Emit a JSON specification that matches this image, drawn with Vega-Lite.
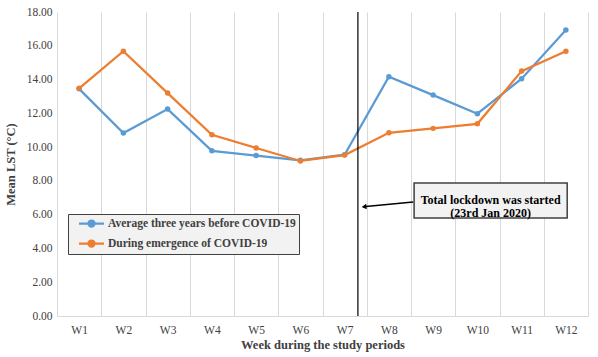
{
  "$schema": "https://vega.github.io/schema/vega-lite/v6.json",
  "width": 531,
  "height": 304,
  "autosize": {"type": "none"},
  "padding": {"left": 57, "top": 12, "right": 10, "bottom": 41},
  "background": "white",
  "config": {
    "view": {"stroke": null},
    "font": "Liberation Serif",
    "axis": {"labelFont": "Liberation Serif", "titleFont": "Liberation Serif"}
  },
  "datasets": {
    "series": [
      {"week": "W1", "series": "Average three years before COVID-19", "value": 13.45},
      {"week": "W2", "series": "Average three years before COVID-19", "value": 10.83},
      {"week": "W3", "series": "Average three years before COVID-19", "value": 12.25},
      {"week": "W4", "series": "Average three years before COVID-19", "value": 9.78},
      {"week": "W5", "series": "Average three years before COVID-19", "value": 9.5},
      {"week": "W6", "series": "Average three years before COVID-19", "value": 9.22},
      {"week": "W7", "series": "Average three years before COVID-19", "value": 9.55},
      {"week": "W8", "series": "Average three years before COVID-19", "value": 14.17},
      {"week": "W9", "series": "Average three years before COVID-19", "value": 13.08},
      {"week": "W10", "series": "Average three years before COVID-19", "value": 11.98},
      {"week": "W11", "series": "Average three years before COVID-19", "value": 14.05},
      {"week": "W12", "series": "Average three years before COVID-19", "value": 16.93},
      {"week": "W1", "series": "During emergence of COVID-19", "value": 13.48},
      {"week": "W2", "series": "During emergence of COVID-19", "value": 15.68},
      {"week": "W3", "series": "During emergence of COVID-19", "value": 13.2},
      {"week": "W4", "series": "During emergence of COVID-19", "value": 10.73},
      {"week": "W5", "series": "During emergence of COVID-19", "value": 9.95},
      {"week": "W6", "series": "During emergence of COVID-19", "value": 9.18},
      {"week": "W7", "series": "During emergence of COVID-19", "value": 9.53},
      {"week": "W8", "series": "During emergence of COVID-19", "value": 10.85},
      {"week": "W9", "series": "During emergence of COVID-19", "value": 11.11},
      {"week": "W10", "series": "During emergence of COVID-19", "value": 11.38},
      {"week": "W11", "series": "During emergence of COVID-19", "value": 14.5},
      {"week": "W12", "series": "During emergence of COVID-19", "value": 15.68}
    ],
    "lockdown": [{"x": 7.3}],
    "box": [{"x": 8.57, "x2": 12.03, "value": 7.87, "value2": 5.8, "xc": 10.3, "yc": 6.84, "label": ["Total lockdown was started", "(23rd Jan 2020)"]}],
    "arrow": [{"x": 8.55, "value": 6.75, "o": 1}, {"x": 7.42, "value": 6.47, "o": 2}],
    "head": [{"x": 7.44, "value": 6.47}]
  },
  "layer": [
    {
      "data": {"name": "series"},
      "encoding": {
        "x": {
          "field": "week", "type": "ordinal", "sort": null,
          "scale": {"type": "band", "paddingInner": 0, "paddingOuter": 0},
          "axis": {
            "title": "Week during the study periods",
            "titleFontSize": 12.5, "titleFontWeight": "bold", "titleColor": "#404040", "titlePadding": 3,
            "labelAngle": 0, "labelFontSize": 11.5, "labelColor": "#404040", "labelPadding": 8,
            "ticks": false, "tickBand": "extent",
            "grid": true, "gridColor": "#d9d9d9", "gridWidth": 1,
            "domainColor": "#d9d9d9", "domainWidth": 1
          }
        },
        "y": {
          "field": "value", "type": "quantitative",
          "scale": {"domain": [0, 18], "nice": false},
          "axis": {
            "title": "Mean LST (°C)", "titleFontSize": 12.5, "titleFontWeight": "bold", "titleColor": "#404040", "titlePadding": 9,
            "values": [0, 2, 4, 6, 8, 10, 12, 14, 16, 18], "format": ".2f", "labelOverlap": false,
            "labelFontSize": 11.5, "labelColor": "#404040", "labelPadding": 5,
            "ticks": false, "domain": false, "grid": false
          }
        },
        "color": {
          "field": "series", "type": "nominal",
          "scale": {"domain": ["Average three years before COVID-19", "During emergence of COVID-19"], "range": ["#5b9bd5", "#ed7d31"]},
          "legend": {
            "title": null, "orient": "none", "legendX": 11, "legendY": 202, "direction": "vertical",
            "fillColor": "#f2f2f2", "strokeColor": "#404040", "padding": 3,
            "labelFont": "Liberation Serif", "labelFontSize": 11.5, "labelFontWeight": "bold", "labelColor": "#404040", "labelLimit": 400,
            "symbolType": "M-2.5,0L2.5,0M0.6,0A0.6,0.6,0,1,1,-0.6,0A0.6,0.6,0,1,1,0.6,0",
            "symbolSize": 100, "symbolStrokeWidth": 2.25, "rowPadding": 5, "labelOffset": 10, "symbolOffset": 14,
            "encode": {"symbols": {"update": {"fill": {"scale": "color", "field": "value"}, "stroke": {"scale": "color", "field": "value"}}}}
          }
        }
      },
      "layer": [
        {"mark": {"type": "line", "strokeWidth": 2.25}},
        {"mark": {"type": "point", "filled": true, "size": 30, "opacity": 1, "shape": "circle"}}
      ]
    },
    {
      "encoding": {
        "y": {
          "field": "value", "type": "quantitative",
          "scale": {"domain": [0, 18], "nice": false},
          "axis": {
            "title": "Mean LST (°C)", "titleFontSize": 12.5, "titleFontWeight": "bold", "titleColor": "#404040", "titlePadding": 9,
            "values": [0, 2, 4, 6, 8, 10, 12, 14, 16, 18], "format": ".2f", "labelOverlap": false,
            "labelFontSize": 11.5, "labelColor": "#404040", "labelPadding": 5,
            "ticks": false, "domain": false, "grid": false
          }
        }
      },
      "layer": [
        {
          "data": {"name": "lockdown"},
          "mark": {"type": "rule", "color": "#000000", "strokeWidth": 1.2},
          "encoding": {
            "x": {"field": "x", "type": "quantitative", "scale": {"domain": [0.5, 12.5], "nice": false, "zero": false}, "axis": null},
            "y": null
          }
        },
        {
          "data": {"name": "box"},
          "mark": {"type": "rect", "fill": "#f2f2f2", "stroke": "#404040", "strokeWidth": 1.5},
          "encoding": {
            "x": {"field": "x", "type": "quantitative", "scale": {"domain": [0.5, 12.5], "nice": false, "zero": false}, "axis": null},
            "x2": {"field": "x2"},
            "y2": {"field": "value2"}
          }
        },
        {
          "data": {"name": "box"},
          "mark": {"type": "text", "font": "Liberation Serif", "fontSize": 12, "fontWeight": "bold", "color": "#000000", "align": "center", "baseline": "middle", "lineHeight": 13},
          "encoding": {
            "x": {"field": "xc", "type": "quantitative", "scale": {"domain": [0.5, 12.5], "nice": false, "zero": false}, "axis": null},
            "y": {"field": "yc", "type": "quantitative", "scale": {"domain": [0, 18], "nice": false}, "axis": {
            "title": "Mean LST (°C)", "titleFontSize": 12.5, "titleFontWeight": "bold", "titleColor": "#404040", "titlePadding": 9,
            "values": [0, 2, 4, 6, 8, 10, 12, 14, 16, 18], "format": ".2f", "labelOverlap": false,
            "labelFontSize": 11.5, "labelColor": "#404040", "labelPadding": 5,
            "ticks": false, "domain": false, "grid": false
          }},
            "text": {"field": "label"}
          }
        },
        {
          "data": {"name": "arrow"},
          "mark": {"type": "line", "color": "#000000", "strokeWidth": 1.5},
          "encoding": {
            "x": {"field": "x", "type": "quantitative", "scale": {"domain": [0.5, 12.5], "nice": false, "zero": false}, "axis": null},
            "order": {"field": "o"}
          }
        },
        {
          "data": {"name": "head"},
          "mark": {"type": "point", "shape": "triangle-left", "filled": true, "color": "#000000", "size": 30, "opacity": 1, "angle": 355},
          "encoding": {
            "x": {"field": "x", "type": "quantitative", "scale": {"domain": [0.5, 12.5], "nice": false, "zero": false}, "axis": null}
          }
        }
      ]
    }
  ],
  "resolve": {"scale": {"x": "independent"}}
}
